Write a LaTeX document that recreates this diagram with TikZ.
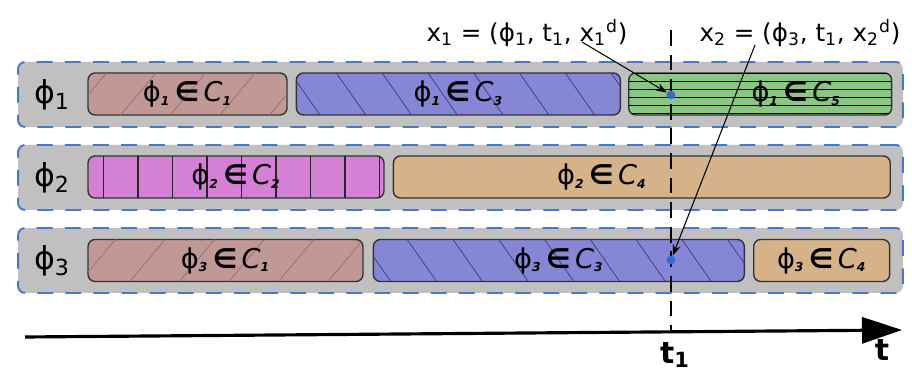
\documentclass[tikz,border=0pt]{standalone}
\usepackage{fontspec}
\setmainfont{DejaVu Sans}
\usepackage{tikz}
\usetikzlibrary{arrows.meta,positioning,patterns.meta}
\definecolor{bandgray}{RGB}{192,192,192}
\definecolor{dashblue}{RGB}{72,120,200}
\definecolor{rosy}{RGB}{192,152,150}
\definecolor{rosyline}{RGB}{150,110,110}
\definecolor{violetblue}{RGB}{134,134,214}
\definecolor{violetline}{RGB}{60,60,120}
\definecolor{softgreen}{RGB}{140,198,132}
\definecolor{orchid}{RGB}{212,128,212}
\definecolor{tan}{RGB}{214,178,136}
\definecolor{pointblue}{RGB}{50,110,210}
\newcommand{\lowidx}[1]{\textsubscript{\itshape\bfseries\scriptsize #1}}
\newcommand{\memb}[2]{ϕ\lowidx{#1}\,\textbf{∈}\,{\itshape C}\lowidx{#2}}
\tikzset{
  band/.style={draw=dashblue, fill=bandgray, line width=1.1pt, dash pattern=on 9pt off 7pt,
               rounded corners=4pt, minimum width=17.7cm, minimum height=1.3cm},
  rowlab/.style={font=\fontsize{18}{18}\selectfont},
  catbox/.style={draw=black!80, line width=0.8pt, rounded corners=4pt, inner sep=0pt,
                 minimum height=0.84cm, font=\fontsize{15.5}{15.5}\selectfont},
  catone/.style={catbox, fill=rosy, postaction={pattern={Lines[angle=50,distance=0.76cm,line width=0.4pt]}, pattern color=rosyline}},
  cattwo/.style={catbox, fill=orchid, postaction={pattern={Lines[angle=90,distance=0.69cm,line width=0.7pt]}, pattern color=black!85}},
  catthree/.style={catbox, fill=violetblue, postaction={pattern={Lines[angle=-55,distance=0.75cm,line width=0.4pt]}, pattern color=violetline}},
  catfour/.style={catbox, fill=tan},
  catfive/.style={catbox, fill=softgreen, postaction={pattern={Lines[angle=0,distance=0.16cm,line width=0.6pt]}, pattern color=black}},
  pointer/.style={-{Stealth[length=2.2mm,width=1.6mm]}, line width=0.6pt},
  sample/.style={circle, fill=pointblue, inner sep=0pt, minimum size=5pt},
  tuple/.style={font=\fontsize{14}{14}\selectfont},
}

\begin{document}
\begin{tikzpicture}[x=0.02cm, y=-0.02cm]
\useasboundingbox (0,0) rectangle (912,377);

% rows
\node[band] (row1) at (460.5,94.5) {};
\node[band] (row2) at (460.5,177.5) {};
\node[band] (row3) at (460.5,260.5) {};
\node[rowlab] (lab1) at (52,95) {ϕ\textsubscript{1}};
\node[rowlab] (lab2) at (52,178) {ϕ\textsubscript{2}};
\node[rowlab] (lab3) at (52,261) {ϕ\textsubscript{3}};

\node[catone, minimum width=3.98cm] (r1a) at (187.5,94) {\memb{1}{1}};
\node[catthree, minimum width=6.48cm, right=0.16cm of r1a] (r1b) {\memb{1}{3}};
\node[catfive, minimum width=5.26cm, right=0.14cm of r1b,
      label={[xshift=0.72cm, font=\fontsize{15.5}{15.5}\selectfont]center:\memb{1}{5}}] (r1c) {};

\node[cattwo, minimum width=5.92cm] (r2a) at (236,177) {\memb{2}{2}};
\node[catfour, minimum width=9.94cm, right=0.16cm of r2a,
      label={[xshift=-0.8cm, font=\fontsize{15.5}{15.5}\selectfont]center:\memb{2}{4}}] (r2b) {};

\node[catone, minimum width=5.5cm] (r3a) at (225.5,260.5) {\memb{3}{1}};
\node[catthree, minimum width=7.42cm, right=0.18cm of r3a] (r3b) {\memb{3}{3}};
\node[catfour, minimum width=2.72cm, right=0.16cm of r3b] (r3c) {\memb{3}{4}};

% time axis
\coordinate (tstart) at (25,337);
\coordinate (tend) at (902,330);
\draw[line width=1.8pt, -{Triangle[length=0.8cm,width=0.52cm]}] (tstart) -- (tend);
\node[font=\fontsize{17}{17}\selectfont\bfseries] (tlab) at (882,350) {t};
\node[font=\fontsize{17}{17}\selectfont\bfseries] (t1lab) at (675,355) {t\textsubscript{1}};

\coordinate (ttop) at (671,30);
\coordinate (tbot) at (671,332);
\draw[line width=0.6pt, dash pattern=on 9pt off 5pt] (ttop) -- (tbot);

% samples
\node[sample] (x1pt) at (671,95) {};
\node[sample] (x2pt) at (671,260) {};
\node[tuple] (x1lab) at (527,33) {x\textsubscript{1} = (ϕ\textsubscript{1}, t\textsubscript{1}, x\textsubscript{1}\textsuperscript{d})};
\node[tuple] (x2lab) at (800,33) {x\textsubscript{2} = (ϕ\textsubscript{3}, t\textsubscript{1}, x\textsubscript{2}\textsuperscript{d})};
\coordinate (x1from) at (582,42);
\coordinate (x2from) at (755,45);
\draw[pointer] (x1from) -- (x1pt);
\draw[pointer] (x2from) -- (x2pt);
\end{tikzpicture}
\end{document}
